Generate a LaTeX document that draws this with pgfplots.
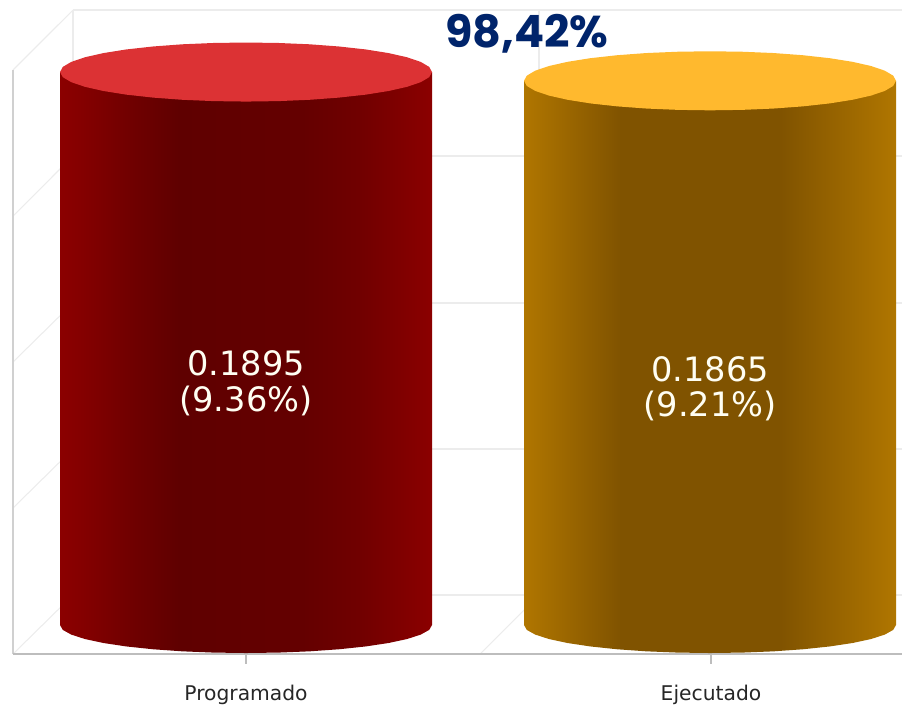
\documentclass[border=0pt]{standalone}
\usepackage{pgfplots}
\pgfplotsset{compat=1.18}
\usepackage{fontspec}
\setmainfont{DejaVu Sans}
\newfontfamily\titlefont{Poppins}[BoldFont={Poppins Bold}]
\definecolor{gridc}{HTML}{ECECEC}
\definecolor{wallc}{HTML}{D0D0D0}
\definecolor{floorc}{HTML}{BDBDBD}
\definecolor{redtop}{HTML}{DC3234}
\definecolor{ortop}{HTML}{FFB92E}
\definecolor{navy}{HTML}{00246B}
\pgfdeclarehorizontalshading{redcyl}{100bp}{
 color(0bp)=(rgb,255:red,139;green,0;blue,0);
 color(25bp)=(rgb,255:red,139;green,0;blue,0);
 color(28bp)=(rgb,255:red,132;green,0;blue,0);
 color(34.5bp)=(rgb,255:red,112;green,0;blue,0);
 color(41bp)=(rgb,255:red,95;green,0;blue,0);
 color(57.5bp)=(rgb,255:red,100;green,0;blue,0);
 color(65bp)=(rgb,255:red,112;green,0;blue,0);
 color(75bp)=(rgb,255:red,139;green,0;blue,0);
 color(100bp)=(rgb,255:red,139;green,0;blue,0)}
\pgfdeclarehorizontalshading{orcyl}{100bp}{
 color(0bp)=(rgb,255:red,176;green,118;blue,0);
 color(25bp)=(rgb,255:red,176;green,118;blue,0);
 color(38bp)=(rgb,255:red,128;green,83;blue,0);
 color(59.5bp)=(rgb,255:red,128;green,83;blue,0);
 color(75bp)=(rgb,255:red,176;green,118;blue,0);
 color(100bp)=(rgb,255:red,176;green,118;blue,0)}
\begin{document}
\begin{tikzpicture}
\useasboundingbox (0,0) rectangle (676.5pt,528pt);
\begin{axis}[
  at={(0,0)}, anchor=south west,
  scale only axis, width=676.5pt, height=528pt,
  xmin=0, xmax=902, ymin=-0.02707, ymax=0.21419,
  hide axis, clip=true,
]
% back wall and side wall grid
\addplot[gridc, line width=1pt] coordinates {(73,0.21076) (902,0.21076)};
\addplot[gridc, line width=1pt] coordinates {(73,0.16073) (902,0.16073)};
\addplot[gridc, line width=1pt] coordinates {(73,0.11035) (902,0.11035)};
\addplot[gridc, line width=1pt] coordinates {(73,0.06032) (902,0.06032)};
\addplot[gridc, line width=1pt] coordinates {(73,0.01028) (902,0.01028)};
\addplot[gridc, line width=0.8pt] coordinates {(73,0.21076) (13,0.1902)};
\addplot[gridc, line width=0.8pt] coordinates {(73,0.16073) (13,0.14016)};
\addplot[gridc, line width=0.8pt] coordinates {(73,0.11035) (13,0.09013)};
\addplot[gridc, line width=0.8pt] coordinates {(73,0.06032) (13,0.0401)};
\addplot[gridc, line width=0.8pt] coordinates {(73,0.01028) (13,-0.00994)};
\addplot[gridc, line width=0.8pt] coordinates {(539,0.01028) (480,-0.00994)};
\addplot[gridc, line width=0.8pt] coordinates {(73,0.21076) (73,0.01028)};
\addplot[gridc, line width=0.8pt] coordinates {(539,0.21076) (539,0.01028)};
\addplot[wallc, line width=1.4pt] coordinates {(13,0.1902) (13,-0.00994)};
\addplot[floorc, line width=1.5pt] coordinates {(13,-0.00994) (902,-0.00994)};
\addplot[floorc, line width=0.8pt] coordinates {(246,-0.00994) (246,-0.01337)};
\addplot[floorc, line width=0.8pt] coordinates {(711,-0.00994) (711,-0.01337)};
% Programado: value 0.1895
\addplot[draw=none, shading=redcyl, shading angle=0] coordinates {
 (60,0.1895) (432,0.1895) (432,0)
 (429.2,-0.00167) (420.8,-0.00328) (407.1,-0.0048) (388.5,-0.00617) (365.6,-0.00735)
 (339,-0.00831) (309.6,-0.00902) (278.3,-0.00945) (246,-0.0096) (213.7,-0.00945)
 (182.4,-0.00902) (153,-0.00831) (126.4,-0.00735) (103.5,-0.00617) (84.9,-0.0048)
 (71.2,-0.00328) (62.8,-0.00167) (60,0)} --cycle;
\addplot[draw=none, fill=redtop] coordinates {
 (432,0.1895) (429.2,0.19126) (420.8,0.19296) (407.1,0.19456) (388.5,0.196) (365.6,0.19725)
 (339,0.19826) (309.6,0.19901) (278.3,0.19946) (246,0.19962) (213.7,0.19946) (182.4,0.19901)
 (153,0.19826) (126.4,0.19725) (103.5,0.196) (84.9,0.19456) (71.2,0.19296) (62.8,0.19126)
 (60,0.1895) (62.8,0.18774) (71.2,0.18604) (84.9,0.18444) (103.5,0.183) (126.4,0.18175)
 (153,0.18074) (182.4,0.17999) (213.7,0.17954) (246,0.17938) (278.3,0.17954) (309.6,0.17999)
 (339,0.18074) (365.6,0.18175) (388.5,0.183) (407.1,0.18444) (420.8,0.18604) (429.2,0.18774)} --cycle;
% Ejecutado: value 0.1865
\addplot[draw=none, shading=orcyl, shading angle=0] coordinates {
 (524,0.1865) (896,0.1865) (896,0)
 (893.2,-0.00167) (884.8,-0.00328) (871.1,-0.0048) (852.5,-0.00617) (829.6,-0.00735)
 (803,-0.00831) (773.6,-0.00902) (742.3,-0.00945) (710,-0.0096) (677.7,-0.00945)
 (646.4,-0.00902) (617,-0.00831) (590.4,-0.00735) (567.5,-0.00617) (548.9,-0.0048)
 (535.2,-0.00328) (526.8,-0.00167) (524,0)} --cycle;
\addplot[draw=none, fill=ortop] coordinates {
 (896,0.1865) (893.2,0.18826) (884.8,0.18996) (871.1,0.19156) (852.5,0.193) (829.6,0.19425)
 (803,0.19526) (773.6,0.19601) (742.3,0.19646) (710,0.19662) (677.7,0.19646) (646.4,0.19601)
 (617,0.19526) (590.4,0.19425) (567.5,0.193) (548.9,0.19156) (535.2,0.18996) (526.8,0.18826)
 (524,0.1865) (526.8,0.18474) (535.2,0.18304) (548.9,0.18144) (567.5,0.18) (590.4,0.17875)
 (617,0.17774) (646.4,0.17699) (677.7,0.17654) (710,0.17638) (742.3,0.17654) (773.6,0.17699)
 (803,0.17774) (829.6,0.17875) (852.5,0.18) (871.1,0.18144) (884.8,0.18304) (893.2,0.18474)} --cycle;
% texts
\node[text=white!95!yellow, align=center, font=\fontsize{25.2}{26.5}\selectfont, anchor=center] at (axis cs:246,0.0829) {0.1895\\(9.36\%)};
\node[text=white!95!yellow, align=center, font=\fontsize{25.2}{26.5}\selectfont, anchor=center] at (axis cs:710,0.0810) {0.1865\\(9.21\%)};
\node[text=black!85, font=\fontsize{15.2}{17}\selectfont, anchor=center] at (axis cs:246,-0.0240) {Programado};
\node[text=black!85, font=\fontsize{15.2}{17}\selectfont, anchor=center] at (axis cs:711,-0.0240) {Ejecutado};
\node[text=navy, font=\titlefont\bfseries\fontsize{33.4}{36}\selectfont, anchor=center] at (axis cs:527,0.2027) {98,42\%};
\end{axis}
\end{tikzpicture}
\end{document}
